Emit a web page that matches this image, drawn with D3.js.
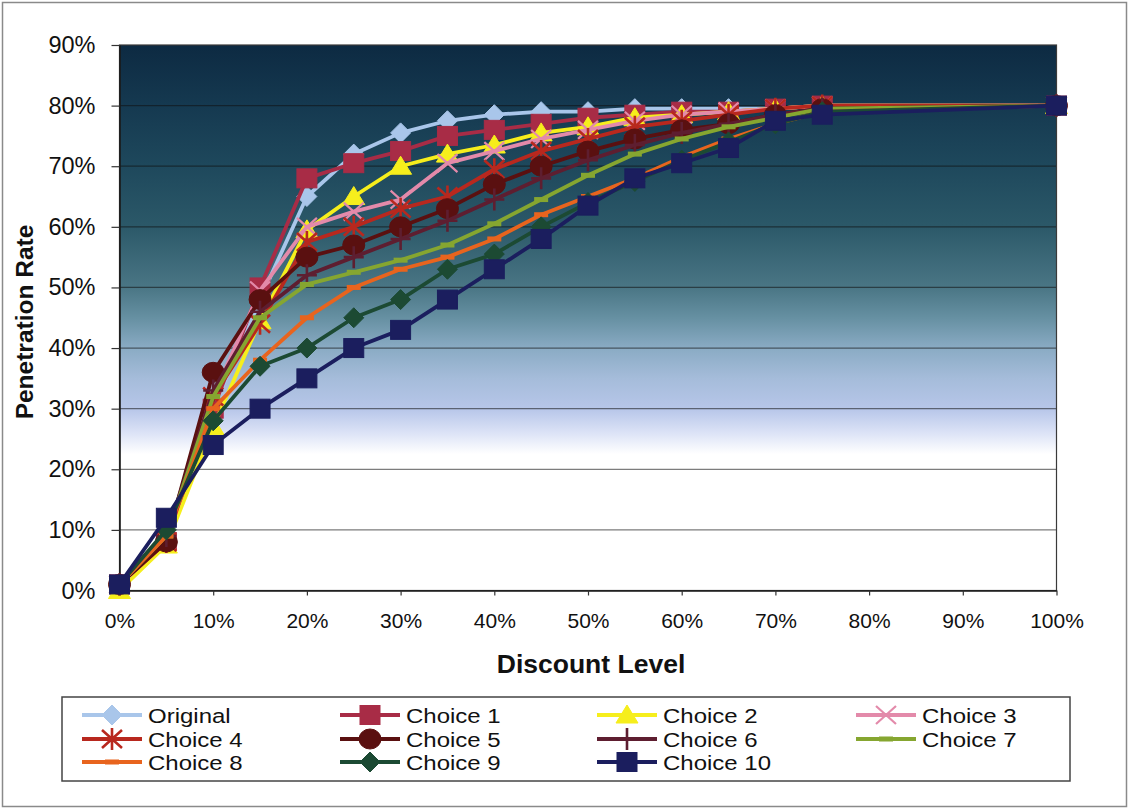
<!DOCTYPE html>
<html>
<head>
<meta charset="utf-8">
<script src="https://cdn.jsdelivr.net/npm/d3@7/dist/d3.min.js"></script>
<style>
  html, body { margin: 0; padding: 0; background: #fff; }
  svg { display: block; font-family: "Liberation Sans", Arial, sans-serif; }
</style>
</head>
<body>
<svg id="chart" width="1128" height="809"></svg>
<script>
// Discount levels (%) on the x axis
const discountLevels = [0, 5, 10, 15, 20, 25, 30, 35, 40, 45, 50, 55, 60, 65, 70, 75, 100];

// Penetration rate (%) per series
const original = [1, 9, 30, 48, 65, 72, 75.5, 77.5, 78.5, 79, 79, 79.5, 79.5, 79.5, 79.5, 80, 80];
const choice1  = [1, 8, 30, 50, 68, 70.5, 72.5, 75, 76, 77, 78, 78.5, 79, 79, 79.5, 80, 80];
const choice2  = [0, 7.5, 27, 44.5, 59.5, 65, 70, 72, 73.5, 75.5, 76.5, 78, 78.5, 79, 79.5, 80, 80];
const choice3  = [1, 8, 32, 49.5, 60, 62.5, 64.5, 70.5, 72.5, 74.5, 76, 77.5, 78.5, 79, 79.5, 80, 80];
const choice4  = [1, 8, 32, 44, 57.5, 60, 63, 65, 69.5, 72.5, 74.5, 76.5, 77.5, 78.5, 79.5, 80, 80];
const choice5  = [1, 8, 36, 48, 55, 57, 60, 63, 67, 70, 72.5, 74.5, 76, 77, 78.5, 79.5, 80];
const choice6  = [1, 9, 33, 46, 52, 55, 58, 61, 64.5, 68, 71, 73.5, 75.5, 77, 78.5, 79.5, 80];
const choice7  = [1, 9, 32, 45, 50.5, 52.5, 54.5, 57, 60.5, 64.5, 68.5, 72, 74.5, 76.5, 78, 79.5, 80];
const choice8  = [1, 9, 30, 38, 45, 50, 53, 55, 58, 62, 65, 68, 71.5, 74.5, 77, 79, 80];
const choice9  = [1, 10, 28, 37, 40, 45, 48, 53, 55.5, 60, 64, 67.5, 71, 74, 77, 79, 80];
const choice10 = [1, 12, 24, 30, 35, 40, 43, 48, 53, 58, 63.5, 68, 70.5, 73, 77.5, 78.5, 80];

const seriesNames = ["Original", "Choice 1", "Choice 2", "Choice 3", "Choice 4", "Choice 5",
                     "Choice 6", "Choice 7", "Choice 8", "Choice 9", "Choice 10"];
const seriesValues = [original, choice1, choice2, choice3, choice4, choice5,
                      choice6, choice7, choice8, choice9, choice10];

const xTickValues = [0, 10, 20, 30, 40, 50, 60, 70, 80, 90, 100];
const yTickValues = [0, 10, 20, 30, 40, 50, 60, 70, 80, 90];

// Per-series look: line colour and marker shape
const styles = [
  { color: "#a9c6ea", marker: "diamond" },
  { color: "#a82c46", marker: "square" },
  { color: "#f6ee1c", marker: "triangle" },
  { color: "#e38aaa", marker: "x" },
  { color: "#b8281e", marker: "asterisk" },
  { color: "#5a1010", marker: "circle" },
  { color: "#5e1e30", marker: "plus" },
  { color: "#86a630", marker: "dash" },
  { color: "#e8641e", marker: "dash" },
  { color: "#1c4a33", marker: "diamond" },
  { color: "#1b1e5e", marker: "square" }
];

const svg = d3.select("#chart");

// Outer frame
svg.append("rect").attr("x", 2.5).attr("y", 2.5).attr("width", 1124).attr("height", 804)
  .attr("fill", "#fff").attr("stroke", "#8a8a8a").attr("stroke-width", 1.5);

const plot = { left: 119.5, right: 1056.5, top: 45, bottom: 590.5 };
const x = d3.scaleLinear().domain([0, 100]).range([plot.left, plot.right]);
const y = d3.scaleLinear().domain([0, 90]).range([plot.bottom, plot.top]);

// Plot-area background gradient: dark teal at the top fading to white
const defs = svg.append("defs");
const grad = defs.append("linearGradient").attr("id", "bg")
  .attr("gradientUnits", "userSpaceOnUse")
  .attr("x1", 0).attr("x2", 0).attr("y1", plot.top).attr("y2", plot.bottom);
[
  [0.00, "#0d2a42"], [0.11, "#153950"], [0.22, "#1e485c"], [0.33, "#2b5868"],
  [0.445, "#4a7685"], [0.50, "#6690a2"], [0.556, "#8aabc4"], [0.611, "#a5bcda"],
  [0.667, "#b7c6e9"], [0.71, "#dbe2f6"], [0.75, "#ffffff"], [1.0, "#ffffff"]
].forEach(([o, c]) => grad.append("stop").attr("offset", o).attr("stop-color", c));

svg.append("rect").attr("x", plot.left).attr("y", plot.top)
  .attr("width", plot.right - plot.left).attr("height", plot.bottom - plot.top)
  .attr("fill", "url(#bg)");

// Horizontal gridlines
svg.append("g").selectAll("line").data(yTickValues.filter(v => v > 0 && v < 90)).join("line")
  .attr("x1", plot.left).attr("x2", plot.right)
  .attr("y1", d => y(d)).attr("y2", d => y(d))
  .attr("stroke", "#111").attr("stroke-opacity", 0.55).attr("stroke-width", 1.2);

// Plot-area border
svg.append("rect").attr("x", plot.left).attr("y", plot.top)
  .attr("width", plot.right - plot.left).attr("height", plot.bottom - plot.top)
  .attr("fill", "none").attr("stroke", "#3a3a3a").attr("stroke-width", 1.2);

// Axes
const yAxis = svg.append("g").attr("transform", `translate(${plot.left},0)`)
  .call(d3.axisLeft(y).tickValues(yTickValues).tickFormat(d => d + "%")
    .tickSizeInner(8).tickSizeOuter(0).tickPadding(16));
const xAxis = svg.append("g").attr("transform", `translate(0,${plot.bottom})`)
  .call(d3.axisBottom(x).tickValues(xTickValues).tickFormat(d => d + "%")
    .tickSizeInner(5).tickSizeOuter(0).tickPadding(18));
[yAxis, xAxis].forEach(a => {
  a.select(".domain").attr("stroke", "#1a1a1a").attr("stroke-width", 1.6);
  a.selectAll(".tick line").attr("stroke", "#333").attr("stroke-width", 1.2);
  a.selectAll(".tick text").attr("fill", "#111")
    .style("font-family", "'Liberation Sans', Arial, sans-serif");
});
yAxis.selectAll(".tick text").style("font-size", "23.5px");
xAxis.selectAll(".tick text").style("font-size", "21px");

// Axis titles
svg.append("text").attr("x", 591).attr("y", 673).attr("text-anchor", "middle")
  .style("font-size", "26.5px").style("font-weight", "bold").attr("fill", "#111")
  .text("Discount Level");
svg.append("text").attr("transform", "translate(33,322) rotate(-90)").attr("text-anchor", "middle")
  .style("font-size", "24.5px").style("font-weight", "bold").attr("fill", "#111")
  .text("Penetration Rate");

// Marker drawing
function drawMarker(g, type, cx, cy, color) {
  switch (type) {
    case "diamond":
      g.append("path").attr("d", `M${cx},${cy - 10}L${cx + 10},${cy}L${cx},${cy + 10}L${cx - 10},${cy}Z`)
        .attr("fill", color).attr("stroke", color);
      break;
    case "square":
      g.append("rect").attr("x", cx - 10).attr("y", cy - 9.5).attr("width", 20).attr("height", 19)
        .attr("fill", color).attr("stroke", color);
      break;
    case "triangle":
      g.append("path").attr("d", `M${cx},${cy - 10}L${cx + 11},${cy + 8}L${cx - 11},${cy + 8}Z`)
        .attr("fill", color).attr("stroke", color);
      break;
    case "circle":
      g.append("ellipse").attr("cx", cx).attr("cy", cy).attr("rx", 11).attr("ry", 10)
        .attr("fill", color).attr("stroke", color);
      break;
    case "x":
      g.append("path").attr("d", `M${cx - 10},${cy - 9}L${cx + 10},${cy + 9}M${cx - 10},${cy + 9}L${cx + 10},${cy - 9}`)
        .attr("stroke", color).attr("stroke-width", 2.2).attr("fill", "none");
      break;
    case "asterisk":
      g.append("path").attr("d", `M${cx - 10},${cy - 9}L${cx + 10},${cy + 9}M${cx - 10},${cy + 9}L${cx + 10},${cy - 9}M${cx},${cy - 11}L${cx},${cy + 11}`)
        .attr("stroke", color).attr("stroke-width", 2.6).attr("fill", "none");
      break;
    case "plus":
      g.append("path").attr("d", `M${cx - 10},${cy}L${cx + 10},${cy}M${cx},${cy - 11}L${cx},${cy + 11}`)
        .attr("stroke", color).attr("stroke-width", 2.6).attr("fill", "none");
      break;
    case "dash":
      g.append("rect").attr("x", cx - 7).attr("y", cy - 2.5).attr("width", 14).attr("height", 5)
        .attr("fill", color);
      break;
  }
}

// Series lines and markers
const line = d3.line().x((d, i) => x(discountLevels[i])).y(d => y(d));
const seriesG = svg.append("g");
seriesValues.forEach((vals, si) => {
  const st = styles[si];
  const g = seriesG.append("g");
  g.append("path").datum(vals).attr("d", line)
    .attr("fill", "none").attr("stroke", st.color).attr("stroke-width", 3.8)
    .attr("stroke-linejoin", "round");
  vals.forEach((v, i) => drawMarker(g, st.marker, x(discountLevels[i]), y(v), st.color));
});

// Legend: four columns, rows filled left to right; labels use a slightly widened face
const legend = svg.append("g");
legend.append("rect").attr("x", 62).attr("y", 697).attr("width", 1008).attr("height", 84)
  .attr("fill", "#fff").attr("stroke", "#444").attr("stroke-width", 1.5);
const colX = [82, 340, 597, 856];
const rowY = [715, 739, 762];
seriesNames.forEach((name, i) => {
  const cx0 = colX[i % 4], cy0 = rowY[Math.floor(i / 4)];
  const st = styles[i];
  const g = legend.append("g");
  g.append("line").attr("x1", cx0).attr("x2", cx0 + 60).attr("y1", cy0).attr("y2", cy0)
    .attr("stroke", st.color).attr("stroke-width", 4);
  drawMarker(g, st.marker, cx0 + 30, cy0, st.color);
  const t = g.append("text").attr("x", cx0 + 66).attr("y", cy0 + 7.5)
    .style("font-size", "20.5px").attr("fill", "#111").text(name);
  const w = t.node().getComputedTextLength();
  t.attr("textLength", w * 1.17).attr("lengthAdjust", "spacingAndGlyphs");
});
</script>
</body>
</html>
